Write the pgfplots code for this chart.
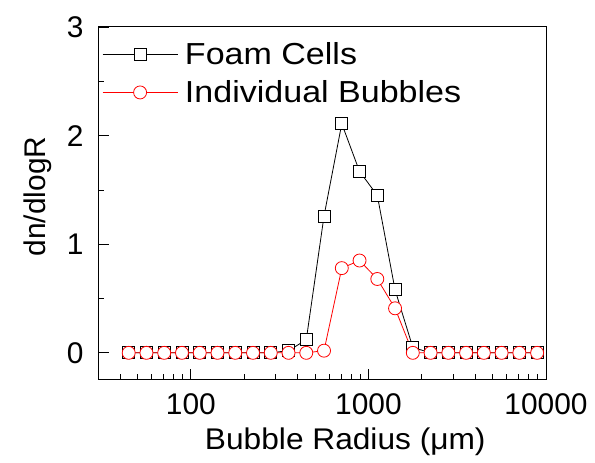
\documentclass[border=0pt]{standalone}
\usepackage{fontspec}
\setmainfont{Liberation Sans}
\usepackage{pgfplots}
\pgfplotsset{compat=1.18}
\begin{document}
\begin{tikzpicture}[font=\fontsize{30}{36}\selectfont]
\begin{axis}[
  scale only axis,
  width=448bp, height=353bp,
  xmode=log,
  xmin=30, xmax=10000,
  ymin=-0.25, ymax=3,
  xtick={100,1000,10000},
  xticklabels={100,1000,10000},
  minor xtick={40,50,60,70,80,90,200,300,400,500,600,700,800,900,2000,3000,4000,5000,6000,7000,8000,9000},
  ytick={0,1,2,3},
  minor ytick={0.5,1.5,2.5},
  tick align=inside,
  xtick pos=bottom, ytick pos=left,
  major tick length=11bp, minor tick length=6bp,
  tick style={black, line width=0.8bp},
  axis line style={line width=1bp},
  /pgf/number format/assume math mode=true,
  xticklabel style={yshift=-10bp},
  yticklabel style={xshift=-11bp},
  xlabel={Bubble Radius (μm)},
  ylabel={dn/dlogR},
  x label style={at={(axis description cs:0.552,-0.175)},anchor=center,font=\fontsize{30}{36}\selectfont\addfontfeature{FakeStretch=1.06}},
  y label style={at={(axis description cs:-0.134,0.52)},anchor=center},
  legend image code/.code={\draw[mark repeat=2,mark phase=2] plot coordinates {(0bp,0bp)(37.5bp,0bp)(75bp,0bp)};},
  legend style={at={(0,1)}, anchor=north west, yshift=-9bp, draw=none, fill=none, inner xsep=4bp, inner ysep=4bp, row sep=11bp, column sep=5bp, font=\fontsize{30.5}{36}\selectfont\addfontfeature{FakeStretch=1.12}},
  legend cell align=left,
]
\addplot[black, line width=0.8bp, mark=square*, mark size=6bp, mark options={fill=white, solid}] coordinates {
(44.67,0) (56.23,0) (70.79,0) (89.13,0) (112.2,0) (141.25,0) (177.83,0) (223.87,0) (281.84,0)
(354.81,0.02) (446.68,0.12) (562.34,1.26) (707.95,2.11) (891.25,1.67) (1122.0,1.45) (1412.5,0.58)
(1778.3,0.05) (2238.7,0) (2818.4,0) (3548.1,0) (4466.8,0) (5623.4,0) (7079.5,0) (8912.5,0)
};
\addlegendentry{Foam Cells}
\addplot[red, line width=0.8bp, mark=*, mark size=6.5bp, mark options={fill=white, solid}] coordinates {
(44.67,0) (56.23,0) (70.79,0) (89.13,0) (112.2,0) (141.25,0) (177.83,0) (223.87,0) (281.84,0)
(354.81,0) (446.68,0) (562.34,0.02) (707.95,0.78) (891.25,0.85) (1122.0,0.68) (1412.5,0.41)
(1778.3,0) (2238.7,0) (2818.4,0) (3548.1,0) (4466.8,0) (5623.4,0) (7079.5,0) (8912.5,0)
};
\addlegendentry{Individual Bubbles}
\end{axis}
\pgfresetboundingbox
\path[use as bounding box] ([shift={(-98bp,-83bp)}]current axis.south west) rectangle ([shift={(49bp,27bp)}]current axis.north east);
\end{tikzpicture}
\end{document}
